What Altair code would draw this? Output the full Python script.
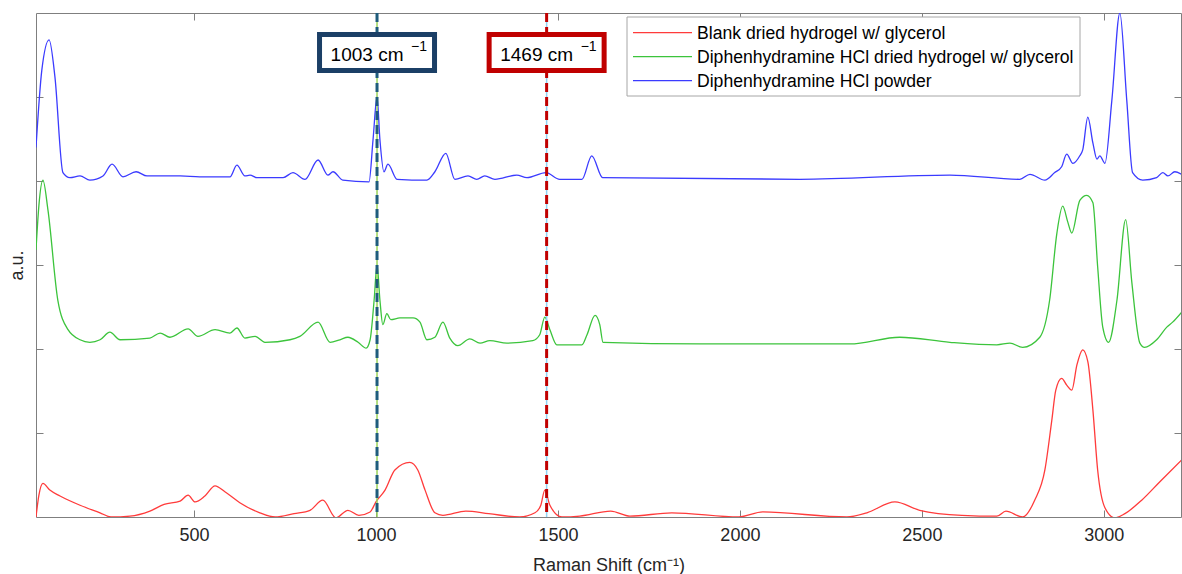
import altair as alt
import pandas as pd

series_names = [
    "Blank dried hydrogel w/ glycerol",
    "Diphenhydramine HCl dried hydrogel w/ glycerol",
    "Diphenhydramine HCl powder",
]
series_colors = ["#ff3b3b", "#3cc43c", "#3b3bff"]

blank_x = [66, 74, 85, 104, 132, 187, 242, 272, 324, 379, 418, 462, 484, 503, 530, 558, 585, 626, 681, 723,
           775, 819, 854, 890, 923, 953, 984, 1000, 1025, 1052, 1093, 1115, 1135, 1162, 1184, 1247, 1310, 1395,
           1437, 1453, 1464, 1478, 1511, 1560, 1645, 1698, 1813, 1997, 2063, 2294, 2349, 2426, 2494, 2610, 2706,
           2731, 2777, 2810, 2838, 2857, 2868, 2884, 2898, 2912, 2926, 2942, 2956, 2970, 2983, 3003, 3030, 3058,
           3104, 3154, 3214]
blank_y = [0.00, 0.26, 0.40, 0.32, 0.25, 0.14, 0.05, 0.00, 0.01, 0.07, 0.15, 0.19, 0.26, 0.18, 0.25, 0.37, 0.30,
           0.17, 0.05, 0.00, 0.04, 0.08, 0.20, -0.01, 0.08, 0.02, 0.06, 0.18, 0.32, 0.56, 0.65, 0.56, 0.32, 0.05,
           0.02, 0.07, 0.04, 0.00, 0.05, 0.14, 0.32, 0.14, 0.00, 0.01, 0.07, 0.01, 0.05, 0.00, 0.06, 0.00, 0.05,
           0.18, 0.08, 0.02, 0.01, 0.07, 0.00, 0.20, 0.56, 1.15, 1.51, 1.65, 1.57, 1.51, 1.81, 1.99, 1.85, 1.27,
           0.56, 0.11, -0.01, 0.04, 0.20, 0.42, 0.68]

gel_x = [66, 74, 85, 99, 126, 154, 187, 214, 242, 269, 297, 379, 407, 434, 484, 511, 558, 599, 618, 640, 668,
         695, 764, 791, 841, 874, 901, 923, 951, 973, 984, 995, 1003, 1011, 1019, 1030, 1041, 1066, 1102, 1121,
         1140, 1162, 1184, 1203, 1225, 1258, 1286, 1313, 1360, 1431, 1450, 1464, 1478, 1497, 1566, 1580, 1602,
         1615, 1624, 1890, 2165, 2302, 2439, 2577, 2706, 2742, 2777, 2824, 2851, 2871, 2887, 2901, 2912, 2934,
         2953, 2970, 2983, 2997, 3013, 3036, 3060, 3077, 3099, 3112, 3145, 3173, 3189, 3214]
gel_y = [3.18, 3.71, 4.01, 3.65, 2.58, 2.23, 2.11, 2.08, 2.11, 2.20, 2.11, 2.13, 2.19, 2.14, 2.24, 2.15, 2.23,
         2.19, 2.25, 2.13, 2.15, 2.08, 2.11, 2.15, 2.32, 2.08, 2.11, 2.14, 2.08, 2.01, 2.11, 2.58, 3.00, 2.58,
         2.29, 2.42, 2.35, 2.37, 2.37, 2.32, 2.11, 2.14, 2.32, 2.13, 2.04, 2.12, 2.07, 2.10, 2.07, 2.10, 2.17,
         2.38, 2.23, 2.05, 2.05, 2.17, 2.40, 2.29, 2.08, 2.06, 2.06, 2.06, 2.14, 2.08, 2.05, 2.07, 2.02, 2.14,
         2.58, 3.38, 3.70, 3.51, 3.38, 3.77, 3.83, 3.74, 2.98, 2.26, 2.08, 2.58, 3.54, 2.79, 2.07, 2.02, 2.11,
         2.26, 2.32, 2.44]

powder_x = [66, 82, 102, 118, 140, 159, 187, 214, 250, 275, 305, 341, 371, 462, 516, 599, 618, 640, 654, 673,
            745, 772, 805, 841, 868, 882, 909, 981, 992, 1003, 1011, 1022, 1033, 1058, 1140, 1162, 1192, 1217,
            1253, 1277, 1299, 1327, 1387, 1415, 1467, 1505, 1566, 1593, 1623, 2165, 2577, 2769, 2797, 2838,
            2865, 2884, 2898, 2915, 2934, 2942, 2956, 2970, 2981, 2989, 3003, 3022, 3044, 3063, 3079, 3107,
            3145, 3162, 3176, 3195, 3214]
powder_y = [4.40, 5.32, 5.68, 5.24, 4.10, 4.04, 4.06, 4.01, 4.06, 4.20, 4.05, 4.11, 4.06, 4.06, 4.05, 4.05,
            4.19, 4.06, 4.07, 4.04, 4.04, 4.10, 4.02, 4.25, 4.07, 4.11, 4.01, 3.99, 4.49, 5.00, 4.49, 4.11, 4.20,
            4.02, 4.01, 4.11, 4.33, 4.02, 4.06, 4.02, 4.06, 4.02, 4.07, 4.04, 4.10, 4.02, 4.02, 4.30, 4.04, 4.02,
            4.07, 4.02, 4.08, 4.01, 4.10, 4.17, 4.32, 4.21, 4.30, 4.37, 4.76, 4.45, 4.26, 4.30, 4.21, 4.96, 6.00,
            4.96, 4.10, 4.01, 4.04, 4.10, 4.06, 4.11, 4.08]

x_ticks = [500, 1000, 1500, 2000, 2500, 3000]
y_ticks = [1, 2, 3, 4, 5]

peak_x = [1003, 1469]
peak_text = ["1003 cm", "1469 cm"]
peak_sup = ["\u22121", "\u22121"]
peak_box_colors = ["#1b3f66", "#c00000"]
peak_dash_colors = ["#1f5c7c", "#c00000"]
peak_under_colors = ["#9bd35a", "#8fd3f5"]

rows = []
for name, xs, ys in zip(series_names, [blank_x, gel_x, powder_x], [blank_y, gel_y, powder_y]):
    for i, (a, b) in enumerate(zip(xs, ys)):
        rows.append({"series": name, "x": a, "y": b, "order": i})
df = pd.DataFrame(rows)

FONT = "Liberation Sans"
AX = "#7f7f7f"

xscale = alt.Scale(domain=[66, 3212], nice=False, zero=False)
yscale = alt.Scale(domain=[0, 6], nice=False, zero=False)

main = alt.Chart(df).mark_line(strokeWidth=1.3, interpolate="monotone", clip=True).encode(
    x=alt.X("x:Q", scale=xscale,
            axis=alt.Axis(orient="bottom", values=x_ticks, offset=-7, tickSize=7, domain=False, grid=False,
                          labelFontSize=18, labelPadding=9, labelFont=FONT, labelColor="#262626",
                          tickColor=AX, title="Raman Shift (cm\u207b\u00b9)", titleFont=FONT,
                          titleFontSize=18, titleFontWeight="normal", titleColor="#262626",
                          titlePadding=12, format="d")),
    y=alt.Y("y:Q", scale=yscale,
            axis=alt.Axis(orient="left", values=y_ticks, offset=-7, tickSize=7, domain=False, grid=False,
                          labels=False, tickColor=AX, title="a.u.", titleFont=FONT, titleFontSize=18,
                          titleFontWeight="normal", titleColor="#262626", titlePadding=9)),
    color=alt.Color("series:N", scale=alt.Scale(domain=series_names, range=series_colors), legend=None),
)

frame = alt.Chart(df).mark_line(opacity=0).encode(
    x=alt.X("x:Q", scale=xscale,
            axis=alt.Axis(orient="top", values=x_ticks, offset=-7, tickSize=7, domain=False, grid=False,
                          labels=False, tickColor=AX, title=None)),
    y=alt.Y("y:Q", scale=yscale,
            axis=alt.Axis(orient="right", values=y_ticks, offset=-7, tickSize=7, domain=False, grid=False,
                          labels=False, tickColor=AX, title=None)),
    detail="series:N",
)

peaks_df = pd.DataFrame({"x": peak_x, "label": peak_text, "sup": peak_sup})

layers = [main, frame]
box_path = "M-1,-0.313L1,-0.313L1,0.313L-1,0.313Z"
for i in range(len(peak_x)):
    sub = alt.Chart(peaks_df.iloc[[i]])
    xenc = alt.X("x:Q", scale=xscale, axis=None)
    layers.append(sub.mark_rule(color=peak_under_colors[i], strokeWidth=1.5).encode(x=xenc))
    layers.append(sub.mark_rule(color=peak_dash_colors[i], strokeWidth=3, strokeDash=[9, 5]).encode(x=xenc))
for i in range(len(peak_x)):
    sub = alt.Chart(peaks_df.iloc[[i]])
    xenc = alt.X("x:Q", scale=xscale, axis=None)
    layers.append(sub.mark_point(shape=box_path, size=13225, filled=True, fill="white", fillOpacity=1,
                                 stroke=peak_box_colors[i], strokeWidth=5, opacity=1).encode(
        x=xenc, y=alt.value(39.5)))
    layers.append(sub.mark_text(font=FONT, fontSize=19, color="black", align="center",
                                baseline="alphabetic", dx=-10).encode(
        x=xenc, y=alt.value(48), text="label:N"))
    layers.append(sub.mark_text(font=FONT, fontSize=14, color="black", align="center",
                                baseline="alphabetic", dx=42).encode(
        x=xenc, y=alt.value(38), text="sup:N"))

# legend (drawn as a boxed key in the upper right of the plot)
legend_df = pd.DataFrame({"series": series_names, "color": series_colors})
layers.append(alt.Chart(legend_df.iloc[[0]]).mark_rect(fill="white", stroke="#a6a6a6", strokeWidth=1).encode(
    x=alt.value(591), x2=alt.value(1044), y=alt.value(4), y2=alt.value(83)))
legend_rows_y = [19.7, 43.7, 67.7]
for i in range(len(series_names)):
    sub = alt.Chart(legend_df.iloc[[i]])
    layers.append(sub.mark_rule(color=series_colors[i], strokeWidth=1.3).encode(
        x=alt.value(597), x2=alt.value(656), y=alt.value(legend_rows_y[i])))
    layers.append(sub.mark_text(font=FONT, fontSize=17.6, color="black", align="left", baseline="middle").encode(
        x=alt.value(661), y=alt.value(legend_rows_y[i] + 1), text="series:N"))

chart = alt.layer(*layers).resolve_axis(x="independent", y="independent").properties(
    width=1145, height=504,
    autosize=alt.AutoSizeParams(type="none"),
    padding={"left": 36, "top": 13, "right": 1, "bottom": 57},
    background="white",
).configure_view(stroke=AX, strokeWidth=1)

chart.save("out.html", embed_options={"renderer": "svg", "actions": False})
